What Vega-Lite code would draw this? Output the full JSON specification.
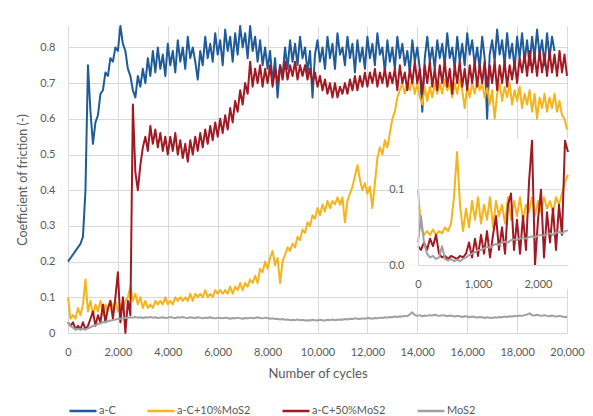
{
  "$schema": "https://vega.github.io/schema/vega-lite/v6.json",
  "width": 499,
  "height": 307,
  "autosize": {"type": "none"},
  "padding": {"left": 68, "top": 26, "right": 26, "bottom": 83},
  "background": "white",
  "config": {
    "view": {"stroke": null},
    "font": "Lato",
    "axis": {
      "labelFont": "Lato", "labelFontSize": 11, "labelColor": "#595959",
      "titleFont": "Lato", "titleFontSize": 12.5, "titleColor": "#595959", "titleFontWeight": "normal",
      "ticks": false, "tickSize": 0, "domain": false, "gridColor": "#d9d9d9", "gridWidth": 1,
      "labelFlush": false, "labelOverlap": false
    }
  },
  "datasets": {
    "main": [
      {"c":0,"a":0.20,"y":0.10,"r":0.03,"m":0.03},
      {"c":100,"a":0.21,"y":0.04,"r":0.02,"m":0.02},
      {"c":200,"a":0.22,"y":0.05,"r":0.03,"m":0.015},
      {"c":300,"a":0.23,"y":0.04,"r":0.01,"m":0.01},
      {"c":400,"a":0.24,"y":0.07,"r":0.02,"m":0.012},
      {"c":500,"a":0.25,"y":0.05,"r":0.01,"m":0.01},
      {"c":600,"a":0.27,"y":0.08,"r":0.03,"m":0.012},
      {"c":700,"a":0.40,"y":0.15,"r":0.01,"m":0.01},
      {"c":800,"a":0.75,"y":0.06,"r":0.02,"m":0.013},
      {"c":900,"a":0.62,"y":0.09,"r":0.04,"m":0.016},
      {"c":1000,"a":0.53,"y":0.05,"r":0.06,"m":0.02},
      {"c":1100,"a":0.59,"y":0.08,"r":0.02,"m":0.022},
      {"c":1200,"a":0.61,"y":0.06,"r":0.05,"m":0.025},
      {"c":1300,"a":0.67,"y":0.09,"r":0.03,"m":0.027},
      {"c":1400,"a":0.68,"y":0.05,"r":0.08,"m":0.03},
      {"c":1500,"a":0.73,"y":0.08,"r":0.03,"m":0.031},
      {"c":1600,"a":0.72,"y":0.06,"r":0.07,"m":0.033},
      {"c":1700,"a":0.77,"y":0.09,"r":0.09,"m":0.035},
      {"c":1800,"a":0.76,"y":0.07,"r":0.04,"m":0.036},
      {"c":1900,"a":0.80,"y":0.09,"r":0.10,"m":0.038},
      {"c":2000,"a":0.79,"y":0.06,"r":0.17,"m":0.039},
      {"c":2100,"a":0.86,"y":0.08,"r":0.03,"m":0.04},
      {"c":2200,"a":0.81,"y":0.07,"r":0.10,"m":0.041},
      {"c":2300,"a":0.79,"y":0.09,"r":0.00,"m":0.042},
      {"c":2400,"a":0.74,"y":0.10,"r":0.09,"m":0.043},
      {"c":2500,"a":0.72,"y":0.13,"r":0.05,"m":0.044},
      {"c":2600,"a":0.68,"y":0.09,"r":0.64,"m":0.043},
      {"c":2700,"a":0.66,"y":0.11,"r":0.45,"m":0.045},
      {"c":2800,"a":0.72,"y":0.08,"r":0.40,"m":0.043},
      {"c":2900,"a":0.69,"y":0.10,"r":0.47,"m":0.044},
      {"c":3000,"a":0.74,"y":0.07,"r":0.52,"m":0.042},
      {"c":3100,"a":0.70,"y":0.09,"r":0.55,"m":0.044},
      {"c":3200,"a":0.77,"y":0.07,"r":0.51,"m":0.043},
      {"c":3300,"a":0.72,"y":0.08,"r":0.58,"m":0.045},
      {"c":3400,"a":0.79,"y":0.07,"r":0.53,"m":0.043},
      {"c":3500,"a":0.73,"y":0.09,"r":0.57,"m":0.044},
      {"c":3600,"a":0.80,"y":0.08,"r":0.52,"m":0.042},
      {"c":3700,"a":0.74,"y":0.09,"r":0.56,"m":0.043},
      {"c":3800,"a":0.78,"y":0.08,"r":0.51,"m":0.044},
      {"c":3900,"a":0.72,"y":0.10,"r":0.55,"m":0.042},
      {"c":4000,"a":0.81,"y":0.08,"r":0.50,"m":0.043},
      {"c":4100,"a":0.75,"y":0.09,"r":0.55,"m":0.045},
      {"c":4200,"a":0.79,"y":0.08,"r":0.51,"m":0.043},
      {"c":4300,"a":0.73,"y":0.10,"r":0.56,"m":0.042},
      {"c":4400,"a":0.82,"y":0.09,"r":0.50,"m":0.044},
      {"c":4500,"a":0.76,"y":0.10,"r":0.54,"m":0.043},
      {"c":4600,"a":0.80,"y":0.09,"r":0.49,"m":0.045},
      {"c":4700,"a":0.74,"y":0.10,"r":0.53,"m":0.043},
      {"c":4800,"a":0.83,"y":0.09,"r":0.48,"m":0.042},
      {"c":4900,"a":0.77,"y":0.11,"r":0.54,"m":0.044},
      {"c":5000,"a":0.80,"y":0.09,"r":0.50,"m":0.043},
      {"c":5100,"a":0.76,"y":0.11,"r":0.55,"m":0.042},
      {"c":5200,"a":0.71,"y":0.10,"r":0.51,"m":0.044},
      {"c":5300,"a":0.79,"y":0.11,"r":0.56,"m":0.043},
      {"c":5400,"a":0.75,"y":0.10,"r":0.52,"m":0.041},
      {"c":5500,"a":0.83,"y":0.12,"r":0.57,"m":0.043},
      {"c":5600,"a":0.77,"y":0.10,"r":0.53,"m":0.042},
      {"c":5700,"a":0.81,"y":0.11,"r":0.58,"m":0.044},
      {"c":5800,"a":0.76,"y":0.10,"r":0.54,"m":0.042},
      {"c":5900,"a":0.84,"y":0.12,"r":0.59,"m":0.041},
      {"c":6000,"a":0.78,"y":0.11,"r":0.55,"m":0.043},
      {"c":6100,"a":0.82,"y":0.12,"r":0.60,"m":0.042},
      {"c":6200,"a":0.75,"y":0.11,"r":0.56,"m":0.041},
      {"c":6300,"a":0.85,"y":0.12,"r":0.61,"m":0.043},
      {"c":6400,"a":0.79,"y":0.11,"r":0.57,"m":0.042},
      {"c":6500,"a":0.83,"y":0.13,"r":0.63,"m":0.040},
      {"c":6600,"a":0.76,"y":0.11,"r":0.59,"m":0.042},
      {"c":6700,"a":0.84,"y":0.13,"r":0.65,"m":0.041},
      {"c":6800,"a":0.78,"y":0.12,"r":0.62,"m":0.043},
      {"c":6900,"a":0.86,"y":0.14,"r":0.68,"m":0.041},
      {"c":7000,"a":0.80,"y":0.12,"r":0.64,"m":0.040},
      {"c":7100,"a":0.84,"y":0.14,"r":0.70,"m":0.042},
      {"c":7200,"a":0.77,"y":0.13,"r":0.67,"m":0.041},
      {"c":7300,"a":0.86,"y":0.15,"r":0.76,"m":0.043},
      {"c":7400,"a":0.79,"y":0.14,"r":0.69,"m":0.041},
      {"c":7500,"a":0.83,"y":0.16,"r":0.74,"m":0.042},
      {"c":7600,"a":0.76,"y":0.14,"r":0.70,"m":0.044},
      {"c":7700,"a":0.82,"y":0.18,"r":0.75,"m":0.042},
      {"c":7800,"a":0.75,"y":0.17,"r":0.69,"m":0.041},
      {"c":7900,"a":0.80,"y":0.20,"r":0.74,"m":0.043},
      {"c":8000,"a":0.74,"y":0.18,"r":0.70,"m":0.042},
      {"c":8100,"a":0.79,"y":0.21,"r":0.75,"m":0.040},
      {"c":8200,"a":0.70,"y":0.23,"r":0.69,"m":0.041},
      {"c":8300,"a":0.77,"y":0.19,"r":0.74,"m":0.039},
      {"c":8400,"a":0.66,"y":0.21,"r":0.70,"m":0.040},
      {"c":8500,"a":0.75,"y":0.14,"r":0.75,"m":0.038},
      {"c":8600,"a":0.72,"y":0.20,"r":0.71,"m":0.039},
      {"c":8700,"a":0.80,"y":0.22,"r":0.76,"m":0.037},
      {"c":8800,"a":0.74,"y":0.24,"r":0.71,"m":0.038},
      {"c":8900,"a":0.82,"y":0.23,"r":0.75,"m":0.036},
      {"c":9000,"a":0.76,"y":0.25,"r":0.72,"m":0.037},
      {"c":9100,"a":0.81,"y":0.24,"r":0.76,"m":0.036},
      {"c":9200,"a":0.75,"y":0.27,"r":0.71,"m":0.038},
      {"c":9300,"a":0.83,"y":0.26,"r":0.75,"m":0.036},
      {"c":9400,"a":0.77,"y":0.29,"r":0.72,"m":0.037},
      {"c":9500,"a":0.80,"y":0.28,"r":0.75,"m":0.035},
      {"c":9600,"a":0.73,"y":0.31,"r":0.71,"m":0.036},
      {"c":9700,"a":0.79,"y":0.30,"r":0.74,"m":0.035},
      {"c":9800,"a":0.66,"y":0.33,"r":0.70,"m":0.037},
      {"c":9900,"a":0.78,"y":0.32,"r":0.73,"m":0.036},
      {"c":10000,"a":0.82,"y":0.35,"r":0.69,"m":0.035},
      {"c":10100,"a":0.76,"y":0.33,"r":0.72,"m":0.037},
      {"c":10200,"a":0.80,"y":0.36,"r":0.68,"m":0.036},
      {"c":10300,"a":0.74,"y":0.34,"r":0.71,"m":0.035},
      {"c":10400,"a":0.83,"y":0.37,"r":0.67,"m":0.037},
      {"c":10500,"a":0.77,"y":0.35,"r":0.70,"m":0.036},
      {"c":10600,"a":0.81,"y":0.37,"r":0.66,"m":0.038},
      {"c":10700,"a":0.74,"y":0.36,"r":0.70,"m":0.036},
      {"c":10800,"a":0.84,"y":0.38,"r":0.66,"m":0.037},
      {"c":10900,"a":0.78,"y":0.36,"r":0.69,"m":0.038},
      {"c":11000,"a":0.80,"y":0.38,"r":0.67,"m":0.037},
      {"c":11100,"a":0.75,"y":0.31,"r":0.70,"m":0.039},
      {"c":11200,"a":0.83,"y":0.37,"r":0.67,"m":0.038},
      {"c":11300,"a":0.77,"y":0.39,"r":0.71,"m":0.040},
      {"c":11400,"a":0.81,"y":0.41,"r":0.68,"m":0.039},
      {"c":11500,"a":0.73,"y":0.44,"r":0.72,"m":0.041},
      {"c":11600,"a":0.82,"y":0.47,"r":0.68,"m":0.040},
      {"c":11700,"a":0.76,"y":0.43,"r":0.72,"m":0.039},
      {"c":11800,"a":0.80,"y":0.40,"r":0.69,"m":0.041},
      {"c":11900,"a":0.74,"y":0.42,"r":0.73,"m":0.040},
      {"c":12000,"a":0.83,"y":0.39,"r":0.69,"m":0.042},
      {"c":12100,"a":0.77,"y":0.41,"r":0.73,"m":0.041},
      {"c":12200,"a":0.81,"y":0.35,"r":0.70,"m":0.040},
      {"c":12300,"a":0.75,"y":0.42,"r":0.74,"m":0.042},
      {"c":12400,"a":0.84,"y":0.49,"r":0.69,"m":0.041},
      {"c":12500,"a":0.78,"y":0.52,"r":0.73,"m":0.043},
      {"c":12600,"a":0.80,"y":0.50,"r":0.70,"m":0.042},
      {"c":12700,"a":0.73,"y":0.54,"r":0.74,"m":0.044},
      {"c":12800,"a":0.82,"y":0.52,"r":0.69,"m":0.043},
      {"c":12900,"a":0.76,"y":0.56,"r":0.73,"m":0.045},
      {"c":13000,"a":0.80,"y":0.60,"r":0.70,"m":0.044},
      {"c":13100,"a":0.74,"y":0.62,"r":0.74,"m":0.046},
      {"c":13200,"a":0.83,"y":0.66,"r":0.68,"m":0.045},
      {"c":13300,"a":0.77,"y":0.68,"r":0.75,"m":0.047},
      {"c":13400,"a":0.81,"y":0.70,"r":0.70,"m":0.046},
      {"c":13500,"a":0.75,"y":0.67,"r":0.73,"m":0.048},
      {"c":13600,"a":0.79,"y":0.70,"r":0.68,"m":0.047},
      {"c":13700,"a":0.73,"y":0.68,"r":0.74,"m":0.052},
      {"c":13800,"a":0.82,"y":0.71,"r":0.70,"m":0.058},
      {"c":13900,"a":0.76,"y":0.67,"r":0.76,"m":0.050},
      {"c":14000,"a":0.80,"y":0.70,"r":0.70,"m":0.048},
      {"c":14100,"a":0.74,"y":0.66,"r":0.74,"m":0.050},
      {"c":14200,"a":0.62,"y":0.64,"r":0.67,"m":0.047},
      {"c":14300,"a":0.77,"y":0.69,"r":0.75,"m":0.049},
      {"c":14400,"a":0.83,"y":0.65,"r":0.70,"m":0.048},
      {"c":14500,"a":0.76,"y":0.69,"r":0.76,"m":0.050},
      {"c":14600,"a":0.80,"y":0.66,"r":0.69,"m":0.049},
      {"c":14700,"a":0.74,"y":0.70,"r":0.74,"m":0.051},
      {"c":14800,"a":0.82,"y":0.67,"r":0.68,"m":0.049},
      {"c":14900,"a":0.77,"y":0.70,"r":0.75,"m":0.048},
      {"c":15000,"a":0.81,"y":0.67,"r":0.70,"m":0.050},
      {"c":15100,"a":0.75,"y":0.71,"r":0.76,"m":0.049},
      {"c":15200,"a":0.84,"y":0.68,"r":0.69,"m":0.047},
      {"c":15300,"a":0.77,"y":0.70,"r":0.74,"m":0.049},
      {"c":15400,"a":0.80,"y":0.66,"r":0.67,"m":0.048},
      {"c":15500,"a":0.74,"y":0.70,"r":0.75,"m":0.046},
      {"c":15600,"a":0.83,"y":0.67,"r":0.70,"m":0.048},
      {"c":15700,"a":0.76,"y":0.71,"r":0.76,"m":0.047},
      {"c":15800,"a":0.81,"y":0.68,"r":0.69,"m":0.045},
      {"c":15900,"a":0.75,"y":0.63,"r":0.74,"m":0.047},
      {"c":16000,"a":0.84,"y":0.69,"r":0.68,"m":0.046},
      {"c":16100,"a":0.78,"y":0.66,"r":0.75,"m":0.044},
      {"c":16200,"a":0.82,"y":0.70,"r":0.70,"m":0.046},
      {"c":16300,"a":0.75,"y":0.67,"r":0.76,"m":0.045},
      {"c":16400,"a":0.80,"y":0.71,"r":0.69,"m":0.043},
      {"c":16500,"a":0.74,"y":0.68,"r":0.75,"m":0.045},
      {"c":16600,"a":0.83,"y":0.70,"r":0.70,"m":0.044},
      {"c":16700,"a":0.77,"y":0.66,"r":0.76,"m":0.042},
      {"c":16800,"a":0.60,"y":0.69,"r":0.69,"m":0.044},
      {"c":16900,"a":0.78,"y":0.64,"r":0.75,"m":0.043},
      {"c":17000,"a":0.82,"y":0.68,"r":0.70,"m":0.042},
      {"c":17100,"a":0.76,"y":0.60,"r":0.76,"m":0.044},
      {"c":17200,"a":0.85,"y":0.67,"r":0.68,"m":0.043},
      {"c":17300,"a":0.78,"y":0.70,"r":0.75,"m":0.045},
      {"c":17400,"a":0.82,"y":0.65,"r":0.70,"m":0.044},
      {"c":17500,"a":0.75,"y":0.69,"r":0.76,"m":0.046},
      {"c":17600,"a":0.84,"y":0.66,"r":0.69,"m":0.045},
      {"c":17700,"a":0.77,"y":0.70,"r":0.75,"m":0.047},
      {"c":17800,"a":0.81,"y":0.64,"r":0.71,"m":0.046},
      {"c":17900,"a":0.74,"y":0.68,"r":0.76,"m":0.048},
      {"c":18000,"a":0.83,"y":0.65,"r":0.70,"m":0.047},
      {"c":18100,"a":0.77,"y":0.69,"r":0.77,"m":0.049},
      {"c":18200,"a":0.84,"y":0.63,"r":0.73,"m":0.048},
      {"c":18300,"a":0.76,"y":0.67,"r":0.78,"m":0.050},
      {"c":18400,"a":0.82,"y":0.64,"r":0.72,"m":0.052},
      {"c":18500,"a":0.75,"y":0.68,"r":0.79,"m":0.055},
      {"c":18600,"a":0.83,"y":0.62,"r":0.73,"m":0.050},
      {"c":18700,"a":0.77,"y":0.67,"r":0.78,"m":0.049},
      {"c":18800,"a":0.85,"y":0.60,"r":0.72,"m":0.051},
      {"c":18900,"a":0.78,"y":0.66,"r":0.79,"m":0.049},
      {"c":19000,"a":0.82,"y":0.63,"r":0.73,"m":0.048},
      {"c":19100,"a":0.75,"y":0.67,"r":0.78,"m":0.050},
      {"c":19200,"a":0.84,"y":0.62,"r":0.72,"m":0.048},
      {"c":19300,"a":0.77,"y":0.66,"r":0.79,"m":0.047},
      {"c":19400,"a":0.83,"y":0.63,"r":0.73,"m":0.049},
      {"c":19500,"a":0.79,"y":0.67,"r":0.78,"m":0.047},
      {"c":19600,"a":null,"y":0.62,"r":0.72,"m":0.046},
      {"c":19700,"a":null,"y":0.65,"r":0.79,"m":0.048},
      {"c":19800,"a":null,"y":0.61,"r":0.73,"m":0.046},
      {"c":19900,"a":null,"y":0.60,"r":0.78,"m":0.045},
      {"c":20000,"a":null,"y":0.57,"r":0.72,"m":0.045}
    ],
    "inset": [
      {"c":0,"y":0.10,"r":0.025,"m":0.03},
      {"c":50,"y":0.05,"r":0.02,"m":0.065},
      {"c":100,"y":0.04,"r":0.03,"m":0.03},
      {"c":150,"y":0.045,"r":0.02,"m":0.015},
      {"c":200,"y":0.04,"r":0.035,"m":0.01},
      {"c":250,"y":0.047,"r":0.025,"m":0.012},
      {"c":300,"y":0.04,"r":0.04,"m":0.008},
      {"c":350,"y":0.045,"r":0.015,"m":0.01},
      {"c":400,"y":0.042,"r":0.01,"m":0.025},
      {"c":450,"y":0.05,"r":0.012,"m":0.008},
      {"c":500,"y":0.045,"r":0.008,"m":0.006},
      {"c":550,"y":0.055,"r":0.012,"m":0.008},
      {"c":600,"y":0.09,"r":0.01,"m":0.005},
      {"c":650,"y":0.15,"r":0.008,"m":0.007},
      {"c":700,"y":0.08,"r":0.012,"m":0.005},
      {"c":750,"y":0.045,"r":0.01,"m":0.008},
      {"c":800,"y":0.075,"r":0.015,"m":0.01},
      {"c":850,"y":0.05,"r":0.03,"m":0.013},
      {"c":900,"y":0.085,"r":0.01,"m":0.015},
      {"c":950,"y":0.06,"r":0.035,"m":0.017},
      {"c":1000,"y":0.09,"r":0.012,"m":0.02},
      {"c":1050,"y":0.055,"r":0.04,"m":0.02},
      {"c":1100,"y":0.08,"r":0.015,"m":0.022},
      {"c":1150,"y":0.06,"r":0.045,"m":0.024},
      {"c":1200,"y":0.09,"r":0.01,"m":0.023},
      {"c":1250,"y":0.05,"r":0.04,"m":0.026},
      {"c":1300,"y":0.085,"r":0.065,"m":0.028},
      {"c":1350,"y":0.065,"r":0.02,"m":0.027},
      {"c":1400,"y":0.08,"r":0.05,"m":0.03},
      {"c":1450,"y":0.055,"r":0.015,"m":0.031},
      {"c":1500,"y":0.09,"r":0.08,"m":0.03},
      {"c":1550,"y":0.06,"r":0.095,"m":0.033},
      {"c":1600,"y":0.085,"r":0.02,"m":0.034},
      {"c":1650,"y":0.065,"r":0.06,"m":0.033},
      {"c":1700,"y":0.09,"r":0.015,"m":0.035},
      {"c":1750,"y":0.06,"r":0.065,"m":0.036},
      {"c":1800,"y":0.08,"r":0.02,"m":0.035},
      {"c":1850,"y":0.07,"r":0.11,"m":0.037},
      {"c":1900,"y":0.09,"r":0.165,"m":0.038},
      {"c":1950,"y":0.065,"r":0.0,"m":0.037},
      {"c":2000,"y":0.085,"r":0.06,"m":0.039},
      {"c":2050,"y":0.07,"r":0.10,"m":0.04},
      {"c":2100,"y":0.09,"r":0.01,"m":0.039},
      {"c":2150,"y":0.075,"r":0.07,"m":0.041},
      {"c":2200,"y":0.085,"r":0.03,"m":0.042},
      {"c":2250,"y":0.07,"r":0.075,"m":0.04},
      {"c":2300,"y":0.09,"r":0.02,"m":0.043},
      {"c":2350,"y":0.08,"r":0.08,"m":0.044},
      {"c":2400,"y":0.095,"r":0.04,"m":0.042},
      {"c":2450,"y":0.11,"r":0.165,"m":0.045},
      {"c":2500,"y":0.12,"r":0.15,"m":0.046}
    ]
  },
  "layer": [
    {
      "data": {"name": "main"},
      "transform": [{"fold": ["a", "y", "r", "m"], "as": ["s", "f"]}],
      "mark": {"type": "line", "strokeWidth": 2, "strokeJoin": "round"},
      "encoding": {
        "x": {
          "field": "c", "type": "quantitative",
          "scale": {"domain": [0, 20000], "nice": false, "zero": false},
          "axis": {"values": [0,2000,4000,6000,8000,10000,12000,14000,16000,18000,20000], "format": ",.0f", "title": "Number of cycles", "titleFontSize": 13, "grid": true, "labelPadding": 13, "titlePadding": 10}
        },
        "y": {
          "field": "f", "type": "quantitative",
          "scale": {"domain": [0, 0.86], "nice": false},
          "axis": {"values": [0,0.1,0.2,0.3,0.4,0.5,0.6,0.7,0.8], "format": ".1~f", "title": "Coefficient of friction (-)", "grid": true, "labelPadding": 13, "titlePadding": 10}
        },
        "color": {
          "field": "s", "type": "nominal",
          "scale": {"domain": ["a", "y", "r", "m"], "range": ["#1f5b99", "#f5b41c", "#a01923", "#a0a0a0"]},
          "legend": {
            "orient": "none", "legendX": 0, "legendY": 370, "direction": "horizontal", "title": null,
            "symbolType": "stroke", "symbolSize": 729, "symbolStrokeWidth": 2.5,
            "labelFont": "Lato", "labelFontSize": 11, "labelColor": "#595959", "labelOffset": 1, "columnPadding": 26,
            "labelExpr": "datum.label == 'a' ? 'a-C' : datum.label == 'y' ? 'a-C+10%MoS2' : datum.label == 'r' ? 'a-C+50%MoS2' : 'MoS2'"
          }
        }
      }
    },
    {
      "layer": [
        {
          "data": {"values": [{}]},
          "mark": {"type": "rect", "fill": "white"},
          "encoding": {
            "x": {"datum": -300, "type": "quantitative", "scale": {"domain": [0, 2500], "range": [350, 500], "nice": false, "zero": false}, "axis": {"orient": "bottom", "offset": -68, "values": [0,1000,2000], "format": ",.0f", "title": null, "grid": false, "domain": true, "domainColor": "#d9d9d9", "labelPadding": 13, "zindex": 1}},
            "x2": {"datum": 2620},
            "y": {"datum": -0.032, "type": "quantitative", "scale": {"domain": [0, 0.17], "range": [239, 111], "nice": false, "zero": false}, "axis": {"orient": "left", "offset": -350, "values": [0, 0.1], "format": ".1f", "title": null, "grid": false, "domain": true, "domainColor": "#d9d9d9", "labelPadding": 14, "zindex": 1}},
            "y2": {"datum": 0.168}
          }
        },
        {
          "data": {"values": [{}]},
          "mark": {"type": "rule", "color": "#d9d9d9", "strokeWidth": 1},
          "encoding": {
            "x": {"datum": 0, "type": "quantitative", "scale": {"domain": [0, 2500], "range": [350, 500], "nice": false, "zero": false}, "axis": {"orient": "bottom", "offset": -68, "values": [0,1000,2000], "format": ",.0f", "title": null, "grid": false, "domain": true, "domainColor": "#d9d9d9", "labelPadding": 13, "zindex": 1}},
            "x2": {"datum": 2500},
            "y": {"datum": 0.1, "type": "quantitative", "scale": {"domain": [0, 0.17], "range": [239, 111], "nice": false, "zero": false}, "axis": {"orient": "left", "offset": -350, "values": [0, 0.1], "format": ".1f", "title": null, "grid": false, "domain": true, "domainColor": "#d9d9d9", "labelPadding": 14, "zindex": 1}}
          }
        },
        {
          "data": {"name": "inset"},
          "transform": [{"fold": ["y", "r", "m"], "as": ["s", "f"]}],
          "mark": {"type": "line", "strokeWidth": 2, "strokeJoin": "round"},
          "encoding": {
            "x": {"field": "c", "type": "quantitative", "scale": {"domain": [0, 2500], "range": [350, 500], "nice": false, "zero": false}, "axis": {"orient": "bottom", "offset": -68, "values": [0,1000,2000], "format": ",.0f", "title": null, "grid": false, "domain": true, "domainColor": "#d9d9d9", "labelPadding": 13, "zindex": 1}},
            "y": {"field": "f", "type": "quantitative", "scale": {"domain": [0, 0.17], "range": [239, 111], "nice": false, "zero": false}, "axis": {"orient": "left", "offset": -350, "values": [0, 0.1], "format": ".1f", "title": null, "grid": false, "domain": true, "domainColor": "#d9d9d9", "labelPadding": 14, "zindex": 1}},
            "color": {"field": "s", "type": "nominal", "scale": {"domain": ["a", "y", "r", "m"], "range": ["#1f5b99", "#f5b41c", "#a01923", "#a0a0a0"]}, "legend": null}
          }
        }
      ]
    }
  ],
  "resolve": {"scale": {"x": "independent", "y": "independent"}}
}
